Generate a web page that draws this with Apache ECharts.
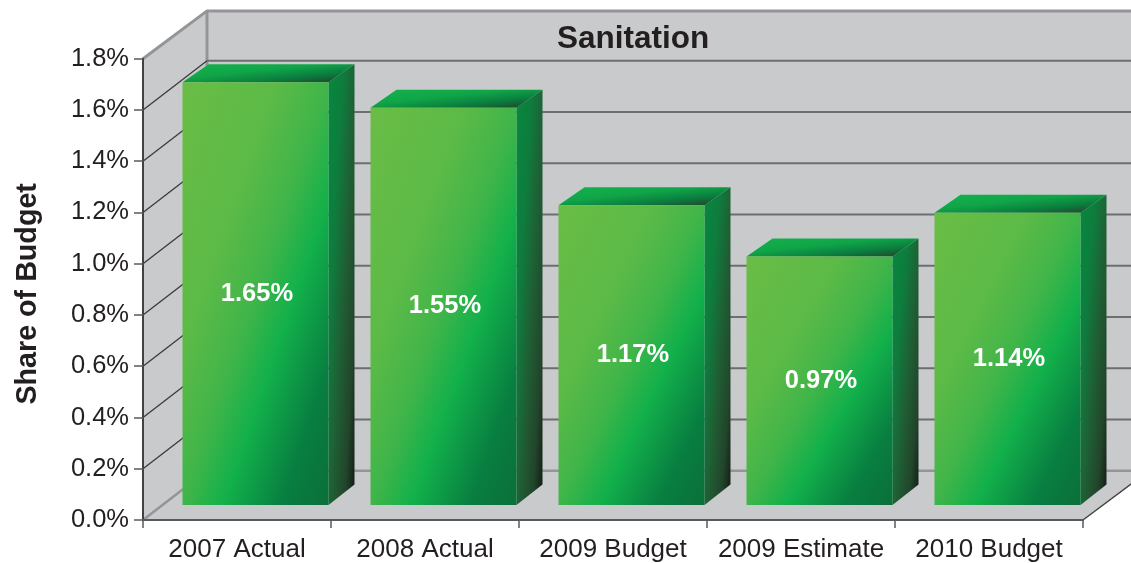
<!DOCTYPE html>
<html>
<head>
<meta charset="utf-8">
<style>html,body{margin:0;padding:0;background:#fff}#c{width:1131px;height:563px}</style>
<script src="https://cdn.jsdelivr.net/npm/echarts@6/dist/echarts.min.js"></script>
</head>
<body>
<div id="c"></div>
<script>
const categories = ['2007 Actual', '2008 Actual', '2009 Budget', '2009 Estimate', '2010 Budget'];
const shareValues = [1.65, 1.55, 1.17, 0.97, 1.14];
const tickValues = [0, 0.2, 0.4, 0.6, 0.8, 1.0, 1.2, 1.4, 1.6, 1.8];

const chart = echarts.init(document.getElementById('c'), null, {renderer: 'canvas'});
const WALL_DX = 64, WALL_DY = 47.8, GRID_DY = 49.3;
const BAR_W = 146, BAR_SHIFT = 18.5, BAR_LIFT = 15;
const DEPTH_X = 26, DEPTH_TOP = 18, DEPTH_BASE = 20.5;
const FONT = '"Liberation Sans", Arial, sans-serif';
const INK = '#231f20';

function diag(x, y, w, h, stops) {
  const n = Math.sqrt(w * w + h * h), L = 2 * w * h / n;
  return new echarts.graphic.LinearGradient(x, y, x + L * h / n, y + L * w / n, stops, true);
}
function poly(points, fill, z2) {
  return {type: 'polygon', shape: {points}, style: {fill}, z2: z2 || 0, silent: true};
}
function line(p, stroke, lineWidth, z2) {
  return {type: 'polyline', shape: {points: p}, style: {stroke, lineWidth, fill: 'none'}, z2: z2 || 0, silent: true};
}

function renderWalls(params, api) {
  const o = api.coord([0, 0]);
  const size = api.size([1, 0]);
  const left = o[0] - size[0] / 2;
  const right = left + size[0] * categories.length;
  const base = o[1];
  const top = api.coord([0, 1.8])[1];
  const kids = [poly([
    [left, top], [left + WALL_DX, top - WALL_DY], [right + WALL_DX, top - WALL_DY],
    [right + WALL_DX, base - WALL_DY], [right, base], [left, base]
  ], '#c9cacc', 0)];
  kids.push(line([[left, top], [left + WALL_DX, top - WALL_DY], [right + WALL_DX, top - WALL_DY]], '#939598', 3, 5));
  kids.push(line([[left + WALL_DX, top - WALL_DY], [left + WALL_DX, base - GRID_DY]], '#939598', 3, 5));
  kids.push(line([[right, base], [right + WALL_DX, base - WALL_DY]], '#414042', 1.5, 5));
  return {type: 'group', children: kids};
}

function renderGrid(params, api) {
  const v = api.value(0);
  const y = api.coord([0, v])[1];
  const size = api.size([1, 0]);
  const o = api.coord([0, 0]);
  const left = o[0] - size[0] / 2;
  const right = left + size[0] * categories.length;
  const bottom = v === 0;
  if (v === 1.8) return {type: 'group', children: []};
  return {type: 'group', children: [
    line([[left, y], [left + WALL_DX, y - GRID_DY]], bottom ? '#939598' : '#3a3a3c', bottom ? 2.5 : 1.3, 3),
    line([[left + WALL_DX, y - GRID_DY], [right + WALL_DX, y - GRID_DY]], bottom ? '#939598' : '#6d6e71', bottom ? 2.5 : 2, 3)
  ]};
}

function renderBar(params, api) {
  const c = api.coord([api.value(0), 0]);
  const t = api.coord([api.value(0), api.value(1)]);
  const x = c[0] + BAR_SHIFT - BAR_W / 2;
  const yB = c[1] - BAR_LIFT;
  const yT = t[1] - BAR_LIFT;
  const h = yB - yT;
  const front = diag(x, yT, BAR_W, h, [
    {offset: 0, color: '#6abd45'}, {offset: 0.32, color: '#5cba47'},
    {offset: 0.5, color: '#40b549'}, {offset: 0.64, color: '#12b04b'},
    {offset: 0.84, color: '#087e40'}, {offset: 1, color: '#0b6f3a'}
  ]);
  const side = diag(x + BAR_W, yT - DEPTH_TOP, DEPTH_X, h + DEPTH_TOP, [
    {offset: 0, color: '#06883f'}, {offset: 0.3, color: '#0e7c3d'},
    {offset: 0.55, color: '#1f5f34'}, {offset: 0.8, color: '#22452b'}, {offset: 1, color: '#111a13'}
  ]);
  const cap = diag(x, yT - DEPTH_TOP, BAR_W + DEPTH_X, DEPTH_TOP, [
    {offset: 0, color: '#13b24b'}, {offset: 0.4, color: '#10a548'},
    {offset: 0.7, color: '#0a7d3e'}, {offset: 1, color: '#263a28'}
  ]);
  return {type: 'group', children: [
    poly([[x + BAR_W, yT], [x + BAR_W + DEPTH_X, yT - DEPTH_TOP], [x + BAR_W + DEPTH_X, yB - DEPTH_BASE], [x + BAR_W, yB]], side, 10),
    poly([[x, yT], [x + DEPTH_X, yT - DEPTH_TOP], [x + BAR_W + DEPTH_X, yT - DEPTH_TOP], [x + BAR_W, yT]], cap, 10),
    poly([[x, yT], [x + BAR_W, yT], [x + BAR_W, yB], [x, yB]], front, 11),
    {type: 'text', z2: 12, silent: true, style: {
      x: x + BAR_W / 2 + 1.5, y: (yT + yB) / 2,
      text: api.value(1).toFixed(2) + '%',
      fill: '#fff', font: 'bold 25.5px ' + FONT, align: 'center', verticalAlign: 'middle'
    }}
  ]};
}

chart.setOption({
  animation: false,
  backgroundColor: '#fff',
  title: {
    text: 'Sanitation', left: 552, top: 18,
    textStyle: {fontFamily: FONT, fontSize: 31.5, fontWeight: 'bold', color: INK}
  },
  grid: {left: 143, right: 48, top: 58.7, bottom: 42.3},
  xAxis: {
    type: 'category', data: categories, z: 5,
    axisLine: {lineStyle: {color: '#58595b', width: 2}},
    axisTick: {show: true, alignWithLabel: false, length: 8, lineStyle: {color: '#58595b', width: 1.5}},
    axisLabel: {color: INK, fontFamily: FONT, fontSize: 26, margin: 17, interval: 0},
    splitLine: {show: false}
  },
  yAxis: {
    type: 'value', min: 0, max: 1.8, interval: 0.2, z: 5,
    name: 'Share of Budget', nameLocation: 'middle', nameRotate: 90, nameGap: 100,
    nameTextStyle: {fontFamily: FONT, fontSize: 28.7, fontWeight: 'bold', color: INK, padding: [0, 9, 0, 0]},
    axisLine: {show: true, lineStyle: {color: '#414042', width: 2}},
    axisTick: {show: true, length: 9, lineStyle: {color: '#58595b', width: 1.5}},
    axisLabel: {color: INK, fontFamily: FONT, fontSize: 25.5, margin: 14, formatter: v => v.toFixed(1) + '%'},
    splitLine: {show: false}
  },
  series: [
    {type: 'custom', z: 1, coordinateSystem: 'cartesian2d', renderItem: renderWalls, data: [[0, 0]], encode: {x: 0, y: 1}, silent: true},
    {type: 'custom', z: 2, coordinateSystem: 'cartesian2d', renderItem: renderGrid, data: tickValues.map(v => [v]), encode: {y: 0}, silent: true},
    {type: 'custom', z: 3, coordinateSystem: 'cartesian2d', renderItem: renderBar, data: categories.map((c, i) => [i, shareValues[i]]), encode: {x: 0, y: 1}, silent: true}
  ]
});
</script>
</body>
</html>
